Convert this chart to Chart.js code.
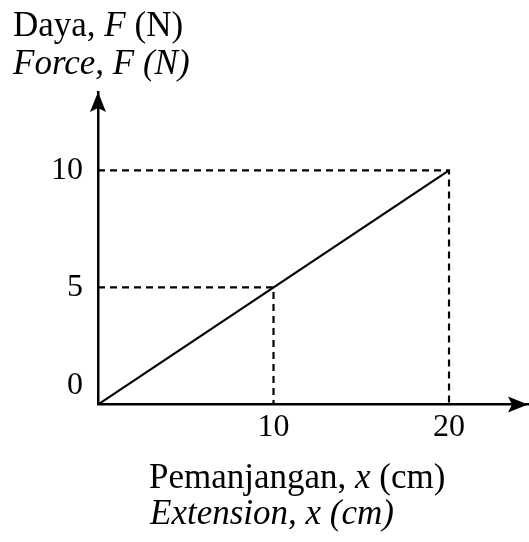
<!DOCTYPE html>
<html>
<head>
<meta charset="utf-8">
<script src="https://cdn.jsdelivr.net/npm/chart.js@4/dist/chart.umd.min.js"></script>
<style>
  html, body { margin: 0; padding: 0; background: #fff; }
  #wrap { position: relative; width: 529px; height: 542px; overflow: hidden; }
  #wrap canvas { position: absolute; left: 0; top: 0; }
  .lbl { position: absolute; font-family: "Liberation Serif", "Times New Roman", serif; font-size: 35px; line-height: 35px; color: #000; white-space: nowrap; }
  .it { font-style: italic; }
</style>
</head>
<body>
<div id="wrap">
  <canvas id="c"></canvas>
  <div class="lbl" style="left:13px; top:6.7px;">Daya, <span class="it">F</span> (N)</div>
  <div class="lbl it" style="left:13px; top:44.7px;">Force, F (N)</div>
  <div class="lbl" style="left:149px; top:458.7px;">Pemanjangan, <span class="it">x</span> (cm)</div>
  <div class="lbl it" style="left:150px; top:494.7px;">Extension, x (cm)</div>
</div>
<script>
// ---- data ----
const lineX = [0, 20];          // extension (cm)
const lineY = [0, 10];          // force (N)
const guideX = [10, 20];        // dashed guide points, x
const guideY = [5, 10];         // dashed guide points, y
const xTicks = [10, 20];
const yTicks = [0, 5, 10];
const xMax = 24.5;
const yMax = 13.35;

const tickFont = { family: "'Liberation Serif', 'Times New Roman', serif", size: 32 };

const datasets = [
  {
    data: lineX.map((x, i) => ({ x: x, y: lineY[i] })),
    showLine: true, borderColor: '#000', borderWidth: 2.2, pointRadius: 0, fill: false
  }
];
guideX.forEach((gx, i) => {
  datasets.push({
    data: [{ x: 0, y: guideY[i] }, { x: gx, y: guideY[i] }, { x: gx, y: 0 }],
    showLine: true, borderColor: '#000', borderWidth: 2.2, borderDash: [7, 5],
    pointRadius: 0, fill: false
  });
});

const arrowPlugin = {
  id: 'arrows',
  afterDraw(chart) {
    const ctx = chart.ctx;
    const xs = chart.scales.x, ys = chart.scales.y;
    const ox = xs.getPixelForValue(0);
    const oy = ys.getPixelForValue(0);
    const topY = ys.getPixelForValue(yMax);
    const rightX = xs.getPixelForValue(xMax);
    const L = 20, H = 8, N = 4;
    ctx.save();
    ctx.fillStyle = '#000';
    // y arrow
    ctx.beginPath();
    ctx.moveTo(ox, topY);
    ctx.lineTo(ox - H, topY + L);
    ctx.lineTo(ox, topY + L - N);
    ctx.lineTo(ox + H, topY + L);
    ctx.closePath();
    ctx.fill();
    // x arrow
    ctx.beginPath();
    ctx.moveTo(rightX, oy);
    ctx.lineTo(rightX - L, oy - H);
    ctx.lineTo(rightX - L + N, oy);
    ctx.lineTo(rightX - L, oy + H);
    ctx.closePath();
    ctx.fill();
    ctx.restore();
  }
};

new Chart(document.getElementById('c'), {
  type: 'scatter',
  data: { datasets: datasets },
  options: {
    responsive: true,
    maintainAspectRatio: false,
    animation: false,
    layout: { padding: { top: 92, right: 1, left: 0, bottom: 0 } },
    plugins: { legend: { display: false }, tooltip: { enabled: false }, title: { display: false } },
    scales: {
      x: {
        type: 'linear', min: 0, max: xMax,
        grid: { display: false, drawTicks: false },
        border: { display: true, color: '#000', width: 2.5 },
        ticks: { font: tickFont, color: '#000', padding: 4, maxRotation: 0 },
        afterBuildTicks: s => { s.ticks = xTicks.map(v => ({ value: v })); },
        afterFit: s => { s.height = 137.5; }
      },
      y: {
        type: 'linear', min: 0, max: yMax,
        grid: { display: false, drawTicks: false },
        border: { display: true, color: '#000', width: 2.5 },
        ticks: {
          font: tickFont, color: '#000', padding: 15,
          callback: v => (v === 0 ? ['0', ''] : String(v))
        },
        afterBuildTicks: s => { s.ticks = yTicks.map(v => ({ value: v })); },
        afterFit: s => { s.width = 98; }
      }
    }
  },
  plugins: [arrowPlugin]
});
</script>
</body>
</html>
